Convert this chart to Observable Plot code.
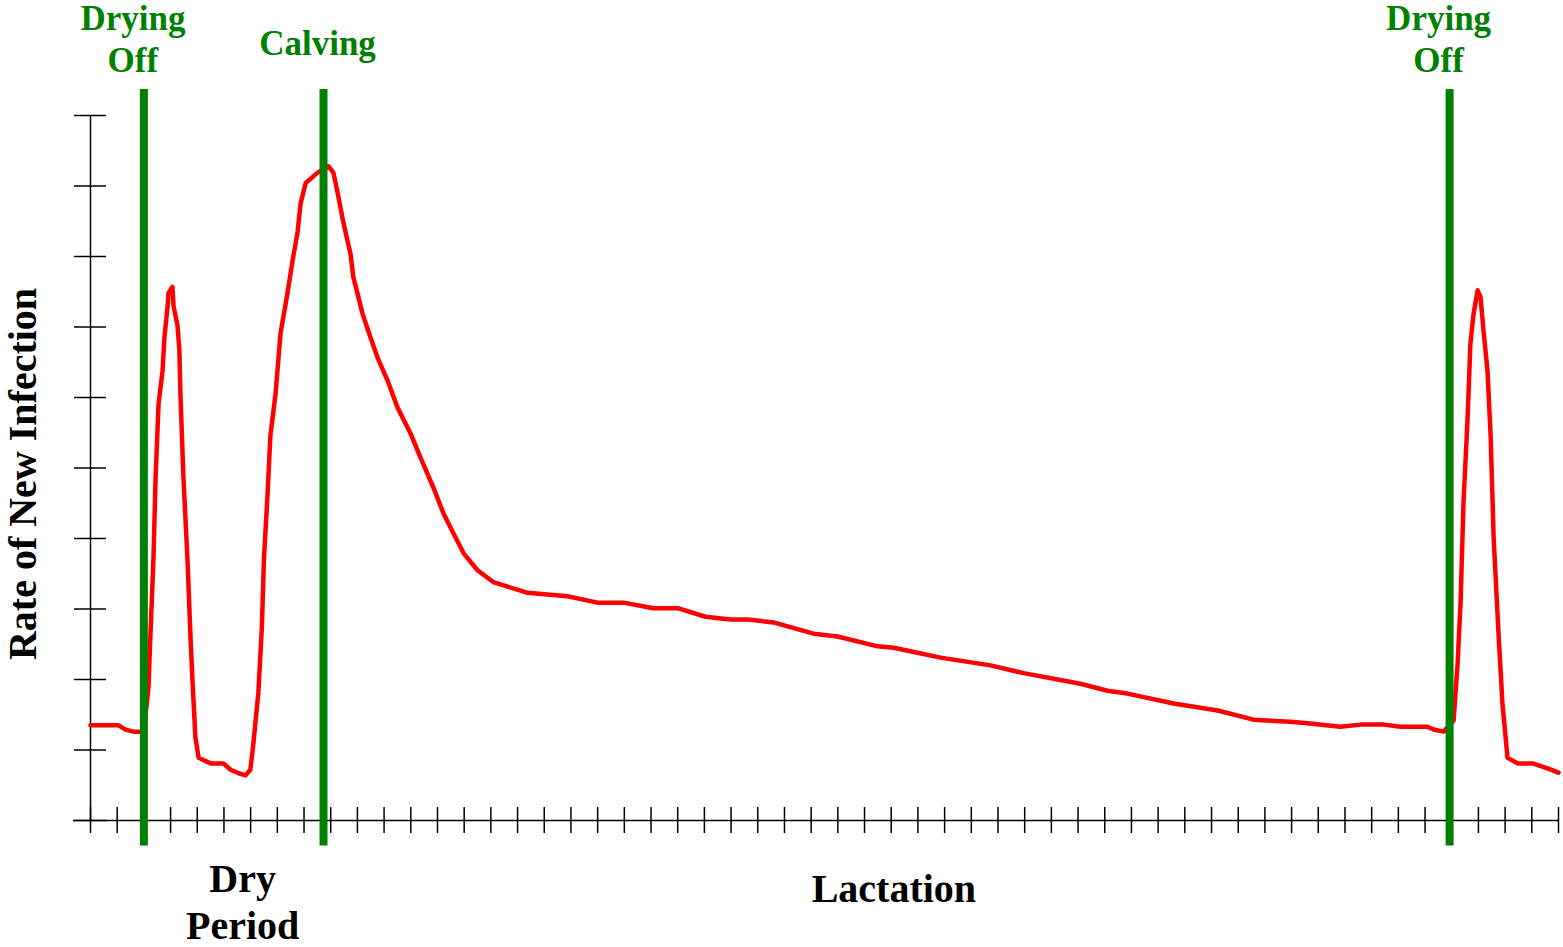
<!DOCTYPE html>
<html>
<head>
<meta charset="utf-8">
<script src="https://cdn.jsdelivr.net/npm/d3@7"></script>
<script src="https://cdn.jsdelivr.net/npm/@observablehq/plot@0.6"></script>
<style>
  html, body { margin: 0; padding: 0; background: #fff; }
  #chart svg { display: block; }
</style>
</head>
<body>
<div id="chart"></div>
<script>
// Position along the cycle (in x-tick units) and rate of new infection (in y-tick units)
const infectionX = [0, 1.05, 1.31, 1.61, 1.99, 2.17, 2.25, 2.36, 2.44, 2.55, 2.70, 2.77, 2.89, 2.92, 3.07, 3.11, 3.26, 3.33, 3.37, 3.48, 3.63, 3.75, 3.82, 3.93, 4.05, 4.50, 4.98, 5.25, 5.55, 5.81, 5.99, 6.11, 6.29, 6.42, 6.50, 6.63, 6.74, 6.93, 7.12, 7.38, 7.57, 7.76, 7.87, 8.06, 8.51, 8.92, 9.10, 9.25, 9.48, 9.74, 9.85, 10.00, 10.19, 10.49, 10.75, 11.13, 11.50, 11.99, 12.36, 12.85, 13.23, 13.60, 13.98, 14.50, 15.10, 16.11, 16.37, 17.87, 19.00, 19.97, 21.09, 22.03, 23.04, 23.98, 24.62, 25.59, 27.09, 27.99, 29.49, 30.09, 30.99, 31.85, 33.72, 34.96, 37.09, 38.10, 38.85, 40.58, 42.23, 43.57, 44.96, 45.60, 46.83, 47.58, 48.45, 49.08, 50.09, 50.32, 50.69, 51.07, 51.22, 51.33, 51.44, 51.59, 51.70, 51.82, 51.97, 52.08, 52.19, 52.34, 52.46, 52.57, 52.76, 52.90, 53.09, 53.47, 54.03, 54.59, 55.0];
const infectionY = [1.35, 1.35, 1.29, 1.26, 1.26, 1.87, 2.68, 3.73, 4.88, 5.91, 6.38, 6.85, 7.30, 7.48, 7.57, 7.30, 7.02, 6.67, 6.04, 4.88, 3.73, 2.57, 1.99, 1.18, 0.89, 0.81, 0.81, 0.72, 0.67, 0.64, 0.72, 1.12, 1.82, 2.74, 3.73, 4.60, 5.46, 6.04, 6.91, 7.48, 7.94, 8.35, 8.75, 9.04, 9.19, 9.28, 9.19, 8.92, 8.47, 8.04, 7.70, 7.48, 7.19, 6.85, 6.57, 6.24, 5.86, 5.49, 5.15, 4.72, 4.35, 4.07, 3.79, 3.55, 3.38, 3.26, 3.23, 3.18, 3.09, 3.09, 3.01, 3.01, 2.89, 2.85, 2.85, 2.81, 2.65, 2.61, 2.47, 2.45, 2.38, 2.31, 2.20, 2.09, 1.94, 1.84, 1.80, 1.66, 1.56, 1.43, 1.40, 1.38, 1.33, 1.36, 1.36, 1.33, 1.33, 1.29, 1.26, 1.42, 2.23, 3.08, 4.50, 5.67, 6.77, 7.19, 7.52, 7.42, 6.95, 6.38, 5.43, 4.01, 2.60, 1.66, 0.89, 0.81, 0.81, 0.74, 0.68];

// Events (green markers)
const eventNames = ["Drying\nOff", "Calving", "Drying\nOff"];
const eventX = [2.0, 8.73, 50.92];
const eventSpan = [-0.36, 10.37];

// Phase labels below the axis
const phaseNames = ["Dry\nPeriod", "Lactation"];
const phaseX = [5.7, 30.1];

// Tick values
const xTicks = d3.range(0, 56);
const yTicks = d3.range(0, 11);
const yLabel = "Rate of New Infection";

const curve = infectionX.map((x, i) => ({x, y: infectionY[i]}));
const events = eventNames.map((name, i) => ({name, x: eventX[i]}));
const phases = phaseNames.map((name, i) => ({name, x: phaseX[i]}));

const GREEN = "#008000";
const FONT = "'Liberation Serif', 'Times New Roman', serif";
const twoLine = d => d.name.includes("\n");

const chart = Plot.plot({
  width: 1563,
  height: 947,
  marginLeft: 90,
  marginRight: 5,
  marginTop: 115,
  marginBottom: 127,
  style: {background: "#fff", fontFamily: FONT},
  x: {domain: [0, 55], axis: null},
  y: {domain: [0, 10], axis: null},
  marks: [
    // axis lines
    Plot.ruleY([0], {x1: 0, x2: 55, insetLeft: -17, stroke: "#000", strokeWidth: 1.5}),
    Plot.ruleX([0], {y1: 0, y2: 10, stroke: "#000", strokeWidth: 1.5}),
    // crossing ticks (one half on each side of the axis)
    Plot.ruleX(xTicks, {x: d => d, y1: 0, y2: 0, insetTop: -13, stroke: "#000", strokeWidth: 1.5}),
    Plot.ruleX(xTicks, {x: d => d, y1: 0, y2: 0, insetBottom: -13, stroke: "#000", strokeWidth: 1.5}),
    Plot.ruleY(yTicks, {y: d => d, x1: 0, x2: 0, insetLeft: -16, stroke: "#000", strokeWidth: 1.5}),
    Plot.ruleY(yTicks, {y: d => d, x1: 0, x2: 0, insetRight: -16, stroke: "#000", strokeWidth: 1.5}),
    // infection curve
    Plot.line(curve, {x: "x", y: "y", stroke: "#ff0000", strokeWidth: 4.5, strokeLinejoin: "round"}),
    // event markers
    Plot.ruleX(events, {x: "x", y1: eventSpan[0], y2: eventSpan[1], stroke: GREEN, strokeWidth: 8}),
    // event labels
    Plot.text(events.filter(twoLine), {
      x: "x", text: "name", frameAnchor: "top", lineAnchor: "top", textAnchor: "middle",
      dx: -11, dy: -115,
      fill: GREEN, fontSize: 35, fontWeight: "bold", lineHeight: 1.2
    }),
    Plot.text(events.filter(d => !twoLine(d)), {
      x: "x", text: "name", frameAnchor: "top", lineAnchor: "top", textAnchor: "middle",
      dx: -6, dy: -90,
      fill: GREEN, fontSize: 35, fontWeight: "bold", lineHeight: 1.2
    }),
    // phase labels
    Plot.text(phases.filter(twoLine), {
      x: "x", text: "name", frameAnchor: "bottom", lineAnchor: "top", textAnchor: "middle",
      dy: 38, fill: "#000", fontSize: 40, fontWeight: "bold", lineHeight: 1.17
    }),
    Plot.text(phases.filter(d => !twoLine(d)), {
      x: "x", text: "name", frameAnchor: "bottom", lineAnchor: "top", textAnchor: "middle",
      dy: 53, fill: "#000", fontSize: 40, fontWeight: "bold"
    }),
    // y-axis title
    Plot.text([yLabel], {
      frameAnchor: "left", text: d => d, rotate: -90, lineAnchor: "middle", textAnchor: "middle",
      dx: -67, dy: 6, fill: "#000", fontSize: 40, fontWeight: "bold"
    })
  ]
});

document.getElementById("chart").appendChild(chart);
</script>
</body>
</html>
